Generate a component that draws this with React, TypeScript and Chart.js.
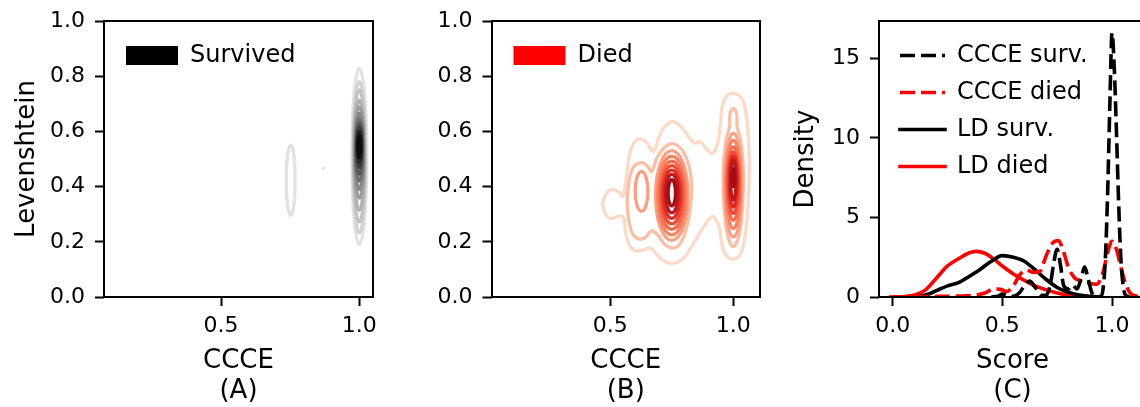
import React, { useEffect, useRef } from 'react';
import { Chart, registerables } from 'chart.js';

Chart.register(...registerables);

const FONT = "'DejaVu Sans', 'Liberation Sans', sans-serif";
Chart.defaults.font.family = FONT;
Chart.defaults.color = '#000';

// ---------------- Panel A : Survived (CCCE vs Levenshtein KDE) ----------------
const aXRange = [0.077, 1.0495];
const aXTicks = [0.5, 1.0];
const abYTicks = [0, 0.2, 0.4, 0.6, 0.8, 1.0];
const survivedCoreX = 1.0;
const survivedCoreTop = [0.828, 0.78, 0.75, 0.713, 0.689, 0.665, 0.645, 0.63, 0.615, 0.6, 0.585];
const survivedCoreBottom = [0.191, 0.232, 0.272, 0.314, 0.358, 0.39, 0.42, 0.445, 0.47, 0.49, 0.505];
const survivedCoreHalfWidth = [0.027, 0.023, 0.021, 0.019, 0.017, 0.015, 0.013, 0.011, 0.009, 0.007, 0.005];
const survivedSideX = [0.752];
const survivedSideTop = [0.55];
const survivedSideBottom = [0.296];
const survivedSideHalfWidth = [0.016];
const survivedSpeckX = [0.87];
const survivedSpeckY = [0.466];

// ---------------- Panel B : Died ----------------
const bXRange = [0.017, 1.1085];
const bXTicks = [0.5, 1.0];
const diedOuterContour = [
  [0.469, 0.339], [0.482, 0.372], [0.506, 0.39], [0.532, 0.382], [0.551, 0.365], [0.563, 0.42],
  [0.577, 0.51], [0.597, 0.56], [0.621, 0.573], [0.645, 0.562], [0.664, 0.537], [0.677, 0.527],
  [0.695, 0.572], [0.717, 0.612], [0.75, 0.635], [0.788, 0.617], [0.818, 0.58], [0.842, 0.558],
  [0.865, 0.562], [0.89, 0.537], [0.912, 0.52], [0.934, 0.55], [0.946, 0.615], [0.955, 0.69],
  [0.972, 0.727], [1.0, 0.738], [1.028, 0.727], [1.047, 0.69], [1.059, 0.6], [1.065, 0.48],
  [1.06, 0.33], [1.047, 0.215], [1.028, 0.155], [1.0, 0.137], [0.972, 0.15], [0.954, 0.19],
  [0.943, 0.25], [0.928, 0.283], [0.912, 0.29], [0.88, 0.255], [0.838, 0.195], [0.797, 0.14],
  [0.75, 0.121], [0.707, 0.138], [0.681, 0.163], [0.66, 0.177], [0.625, 0.168], [0.596, 0.17],
  [0.574, 0.195], [0.562, 0.235], [0.553, 0.29], [0.53, 0.292], [0.5, 0.284], [0.479, 0.303],
];
const diedSecondLeft = [
  [0.569, 0.33], [0.574, 0.405], [0.592, 0.468], [0.628, 0.487], [0.653, 0.472], [0.668, 0.455],
  [0.69, 0.505], [0.716, 0.538], [0.75, 0.556], [0.787, 0.538], [0.814, 0.492], [0.83, 0.42],
  [0.826, 0.33], [0.81, 0.25], [0.786, 0.197], [0.756, 0.177], [0.722, 0.19], [0.695, 0.222],
  [0.668, 0.24], [0.642, 0.215], [0.612, 0.211], [0.585, 0.24],
];
const diedSecondRight = [
  [1.0, 0.683], [1.013, 0.665], [1.016, 0.615], [1.03, 0.565], [1.041, 0.46], [1.037, 0.32],
  [1.022, 0.22], [1.0, 0.183], [0.978, 0.22], [0.963, 0.32], [0.959, 0.46], [0.97, 0.565],
  [0.984, 0.615], [0.987, 0.665],
];
const diedLobeX = [0.627];
const diedLobeTop = [0.455];
const diedLobeBottom = [0.31];
const diedLobeHalfWidth = [0.026];
const diedMiddleX = 0.75;
const diedMiddleTop = [0.53, 0.51, 0.492, 0.476, 0.46, 0.444, 0.425];
const diedMiddleBottom = [0.205, 0.225, 0.245, 0.265, 0.285, 0.305, 0.33];
const diedMiddleHalfWidth = [0.066, 0.058, 0.05, 0.042, 0.034, 0.025, 0.015];
const diedRightX = 1.0;
const diedRightTop = [0.593, 0.568, 0.544, 0.526, 0.51, 0.496, 0.466];
const diedRightBottom = [0.218, 0.248, 0.278, 0.302, 0.326, 0.351, 0.4];
const diedRightHalfWidth = [0.035, 0.03, 0.026, 0.021, 0.016, 0.011, 0.006];

// ---------------- Panel C : densities ----------------
const cXRange = [-0.0625, 1.155];
const cYMax = 17.35;
const cXTicks = [0.0, 0.5, 1.0];
const cYTicks = [0, 5, 10, 15];
const ccceSurvX = [0.45, 0.48, 0.5, 0.52, 0.55, 0.58, 0.6, 0.625, 0.65, 0.68, 0.7, 0.72, 0.735, 0.75, 0.765, 0.78, 0.8, 0.82, 0.84, 0.86, 0.875, 0.89, 0.91, 0.93, 0.95, 0.96, 0.97, 0.98, 0.99, 1.0, 1.01, 1.02, 1.03, 1.04, 1.05, 1.06, 1.08];
const ccceSurvY = [0.0, 0.05, 0.18, 0.08, 0.05, 0.3, 0.7, 1.0, 0.6, 0.1, 0.1, 0.9, 2.2, 3.0, 2.0, 0.7, 0.5, 0.75, 0.5, 1.2, 1.9, 1.2, 0.2, 0.0, 0.05, 0.6, 2.5, 6.5, 12.0, 16.6, 14.5, 10.5, 6.0, 2.5, 0.8, 0.15, 0.0];
const ccceDiedX = [0.0, 0.15, 0.3, 0.38, 0.42, 0.46, 0.49, 0.52, 0.55, 0.58, 0.61, 0.64, 0.67, 0.7, 0.73, 0.755, 0.78, 0.8, 0.83, 0.86, 0.9, 0.93, 0.96, 0.98, 1.0, 1.02, 1.04, 1.06, 1.08, 1.1, 1.12, 1.15];
const ccceDiedY = [0.0, 0.03, 0.06, 0.12, 0.25, 0.5, 0.48, 0.35, 0.7, 1.4, 1.7, 1.55, 1.6, 2.6, 3.4, 3.55, 2.8, 1.9, 1.2, 1.0, 0.85, 0.8, 1.6, 2.8, 3.5, 3.0, 1.9, 0.9, 0.3, 0.1, 0.02, 0.0];
const ldSurvX = [0.1, 0.15, 0.2, 0.25, 0.3, 0.35, 0.4, 0.45, 0.5, 0.55, 0.6, 0.65, 0.7, 0.75, 0.8, 0.85, 0.9, 0.95];
const ldSurvY = [0.0, 0.12, 0.4, 0.7, 0.9, 1.3, 1.75, 2.25, 2.6, 2.5, 2.25, 1.7, 1.1, 0.6, 0.3, 0.12, 0.04, 0.0];
const ldDiedX = [-0.01, 0.05, 0.1, 0.15, 0.2, 0.25, 0.3, 0.35, 0.38, 0.42, 0.46, 0.5, 0.55, 0.6, 0.65, 0.7, 0.75, 0.8, 0.85, 0.9];
const ldDiedY = [0.0, 0.02, 0.12, 0.45, 1.2, 1.95, 2.4, 2.78, 2.87, 2.75, 2.4, 1.95, 1.45, 1.05, 0.7, 0.45, 0.25, 0.12, 0.05, 0.02];

// ---------------- styles ----------------
const GREYS = ['#e2e2e2', '#d2d2d2', '#c2c2c2', '#b0b0b0', '#9c9c9c', '#878787', '#707070', '#575757', '#3d3d3d', '#232323', '#0c0c0c'];
const REDS = ['#fdd9c8', '#fcbea5', '#fca083', '#fb8464', '#f96a4b', '#f04a36', '#dc2a25', '#bf151b', '#a00d14'];
const ELLIPSE_TENSION = 0.5523;
const CONTOUR_WIDTH = 3.3;

const ellipse = (cx: number, top: number, bottom: number, hw: number) => {
  const mid = (top + bottom) / 2;
  return [
    { x: cx, y: top },
    { x: cx + hw, y: mid },
    { x: cx, y: bottom },
    { x: cx - hw, y: mid },
  ];
};
const polygon = (pts: number[][]) => pts.map(([x, y]) => ({ x, y }));
const zip = (xs: number[], ys: number[]) => xs.map((x, i) => ({ x, y: ys[i] }));

const ring = (data: any[], color: string, width: number, tension: number, level: number) => ({
  type: 'line',
  data,
  borderColor: color,
  backgroundColor: color,
  borderWidth: width,
  pointRadius: 0,
  pointHoverRadius: 0,
  tension,
  fill: false,
  closed: true,
  order: 100 - level,
});

// make selected line datasets closed loops
const loopPlugin = {
  id: 'closedLoops',
  afterDatasetUpdate(chart: any, args: any) {
    const ds = chart.data.datasets[args.index];
    if (ds && ds.closed && args.meta.dataset) {
      args.meta.dataset._loop = true;
      args.meta.dataset._fullLoop = true;
    }
  },
};

// legend placed inside the plotting area
const areaLegendPlugin = {
  id: 'areaLegend',
  afterLayout(chart: any, _args: any, opts: any) {
    const lg = chart.legend;
    if (!lg) return;
    const a = chart.chartArea;
    lg.left = a.left + (opts.dx || 0);
    lg.top = a.top + (opts.dy || 0);
    lg.right = a.right;
    lg.bottom = a.bottom;
    lg.width = lg.right - lg.left;
    lg.height = lg.bottom - lg.top;
  },
};

// axes frame (spines)
const framePlugin = {
  id: 'frame',
  afterDatasetsDraw(chart: any) {
    const { ctx, chartArea: a } = chart;
    ctx.save();
    ctx.strokeStyle = '#000';
    ctx.lineWidth = 2;
    ctx.strokeRect(Math.round(a.left), Math.round(a.top), Math.round(a.right) - Math.round(a.left), Math.round(a.bottom) - Math.round(a.top));
    ctx.restore();
  },
};

const tickFont = { family: FONT, size: 22 };
const titleFont = { family: FONT, size: 26, lineHeight: 1.15 };
const yTitleFont = { family: FONT, size: 26, lineHeight: 1.2 };

function scalesFor(o: any) {
  const grid = { display: true, drawOnChartArea: false, drawTicks: true, tickLength: 9, tickWidth: 2, tickColor: '#000' };
  return {
    x: {
      type: 'linear',
      min: o.xMin,
      max: o.xMax,
      afterBuildTicks: (s: any) => { s.ticks = o.xTicks.map((v: number) => ({ value: v })); },
      afterFit: (s: any) => { s.height = 110; s.paddingLeft = 0; s.paddingRight = 0; },
      ticks: { font: tickFont, color: '#000', padding: 7, maxRotation: 0, autoSkip: false, callback: (v: any) => Number(v).toFixed(1) },
      grid,
      border: { display: false },
      title: { display: true, text: o.xTitle, font: titleFont, color: '#000', padding: { top: 0, bottom: 1 } },
    },
    y: {
      type: 'linear',
      min: o.yMin,
      max: o.yMax,
      afterBuildTicks: (s: any) => { s.ticks = o.yTicks.map((v: number) => ({ value: v })); },
      afterFit: (s: any) => { s.width = o.yAxisWidth; s.paddingTop = 0; s.paddingBottom = 0; },
      ticks: { font: tickFont, color: '#000', padding: 10, autoSkip: false, callback: o.yFormat },
      grid,
      border: { display: false },
      title: { display: !!o.yTitle, text: o.yTitle || '', font: yTitleFont, color: '#000', padding: { top: o.yTitlePad || 0, bottom: 0 } },
    },
  };
}

function boxLegend(text: string, color: string) {
  return {
    display: true,
    position: 'chartArea',
    align: 'start',
    labels: {
      boxWidth: 52,
      boxHeight: 19,
      padding: 22,
      color: '#000',
      font: { family: FONT, size: 24 },
      generateLabels: () => [{ text, fillStyle: color, strokeStyle: color, lineWidth: 0, hidden: false, datasetIndex: 0, fontColor: '#000' }],
    },
  };
}

function buildA() {
  const datasets: any[] = [];
  survivedCoreTop.forEach((t, i) => {
    datasets.push(ring(ellipse(survivedCoreX, t, survivedCoreBottom[i], survivedCoreHalfWidth[i]), GREYS[i], CONTOUR_WIDTH, ELLIPSE_TENSION, i));
  });
  survivedSideX.forEach((cx, i) => {
    datasets.push(ring(ellipse(cx, survivedSideTop[i], survivedSideBottom[i], survivedSideHalfWidth[i]), GREYS[0], CONTOUR_WIDTH, ELLIPSE_TENSION, 0));
  });
  datasets.push({
    type: 'line', data: zip(survivedSpeckX, survivedSpeckY), showLine: false,
    pointRadius: 1.8, pointHoverRadius: 1.8, pointBorderWidth: 0,
    pointBackgroundColor: GREYS[0], borderColor: GREYS[0], order: 100,
  });
  return {
    type: 'line',
    data: { datasets },
    options: {
      animation: false, responsive: false, events: [],
      layout: { padding: { left: 0, top: 21, right: 7, bottom: 0 } },
      scales: scalesFor({ xMin: aXRange[0], xMax: aXRange[1], xTicks: aXTicks, yMin: 0, yMax: 1, yTicks: abYTicks, xTitle: ['CCCE', '(A)'], yTitle: 'Levenshtein', yTitlePad: 12, yAxisWidth: 104, yFormat: (v: any) => Number(v).toFixed(1) }),
      plugins: { legend: boxLegend('Survived', '#000000'), tooltip: { enabled: false }, areaLegend: { dx: 0, dy: 0.5 } },
    },
    plugins: [loopPlugin, areaLegendPlugin, framePlugin],
  };
}

function buildB() {
  const datasets: any[] = [];
  datasets.push(ring(polygon(diedOuterContour), REDS[0], CONTOUR_WIDTH, 0.4, 0));
  datasets.push(ring(polygon(diedSecondLeft), REDS[1], CONTOUR_WIDTH, 0.4, 1));
  datasets.push(ring(polygon(diedSecondRight), REDS[1], CONTOUR_WIDTH, 0.4, 1));
  diedLobeX.forEach((cx, i) => {
    datasets.push(ring(ellipse(cx, diedLobeTop[i], diedLobeBottom[i], diedLobeHalfWidth[i]), REDS[2], CONTOUR_WIDTH, ELLIPSE_TENSION, 2));
  });
  diedMiddleTop.forEach((t, i) => {
    datasets.push(ring(ellipse(diedMiddleX, t, diedMiddleBottom[i], diedMiddleHalfWidth[i]), REDS[i + 2], CONTOUR_WIDTH, ELLIPSE_TENSION, i + 2));
  });
  diedRightTop.forEach((t, i) => {
    datasets.push(ring(ellipse(diedRightX, t, diedRightBottom[i], diedRightHalfWidth[i]), REDS[i + 2], CONTOUR_WIDTH, ELLIPSE_TENSION, i + 2));
  });
  return {
    type: 'line',
    data: { datasets },
    options: {
      animation: false, responsive: false, events: [],
      layout: { padding: { left: 0, top: 21, right: 10, bottom: 0 } },
      scales: scalesFor({ xMin: bXRange[0], xMax: bXRange[1], xTicks: bXTicks, yMin: 0, yMax: 1, yTicks: abYTicks, xTitle: ['CCCE', '(B)'], yTitle: '', yAxisWidth: 111.5, yFormat: (v: any) => Number(v).toFixed(1) }),
      plugins: { legend: boxLegend('Died', '#ff0000'), tooltip: { enabled: false }, areaLegend: { dx: 0, dy: 0.5 } },
    },
    plugins: [loopPlugin, areaLegendPlugin, framePlugin],
  };
}

function buildC() {
  const line = (label: string, xs: number[], ys: number[], color: string, dashed: boolean) => ({
    type: 'line',
    label,
    data: zip(xs, ys),
    borderColor: color,
    backgroundColor: color,
    borderWidth: 3.6,
    borderDash: dashed ? [15, 6] : [],
    borderCapStyle: dashed ? 'butt' : 'square',
    pointRadius: 0,
    pointHoverRadius: 0,
    cubicInterpolationMode: 'monotone',
    fill: false,
    clip: 0,
  });
  return {
    type: 'line',
    data: {
      datasets: [
        line('CCCE surv.', ccceSurvX, ccceSurvY, '#000000', true),
        line('CCCE died', ccceDiedX, ccceDiedY, '#ff0000', true),
        line('LD surv.', ldSurvX, ldSurvY, '#000000', false),
        line('LD died', ldDiedX, ldDiedY, '#ff0000', false),
      ],
    },
    options: {
      animation: false, responsive: false, events: [],
      layout: { padding: { left: 0, top: 21, right: 4, bottom: 0 } },
      scales: scalesFor({ xMin: cXRange[0], xMax: cXRange[1], xTicks: cXTicks, yMin: 0, yMax: cYMax, yTicks: cYTicks, xTitle: ['Score', '(C)'], yTitle: 'Density', yTitlePad: 20.4, yAxisWidth: 109, yFormat: (v: any) => String(v) }),
      plugins: {
        legend: {
          display: true,
          position: 'chartArea',
          align: 'start',
          labels: {
            usePointStyle: true,
            pointStyle: 'line',
            pointStyleWidth: 45,
            padding: 13,
            color: '#000',
            font: { family: FONT, size: 24 },
            generateLabels: (chart: any) =>
              chart.data.datasets.map((ds: any, i: number) => ({
                text: ds.label,
                fillStyle: ds.borderColor,
                strokeStyle: ds.borderColor,
                lineWidth: ds.borderWidth,
                lineDash: ds.borderDash,
                lineCap: ds.borderCapStyle,
                pointStyle: 'line',
                hidden: false,
                datasetIndex: i,
                fontColor: '#000',
              })),
          },
        },
        tooltip: { enabled: false },
        areaLegend: { dx: 8, dy: 9.5 },
      },
    },
    plugins: [areaLegendPlugin, framePlugin],
  };
}

function ChartCanvas({ build, left, width }: { build: () => any; left: number; width: number }) {
  const ref = useRef<HTMLCanvasElement | null>(null);
  useEffect(() => {
    if (!ref.current) return;
    const chart = new Chart(ref.current, build());
    return () => chart.destroy();
  }, [build]);
  return (
    <canvas
      ref={ref}
      width={width}
      height={407}
      style={{ position: 'absolute', left, top: 0, width, height: 407, display: 'block' }}
    />
  );
}

export default function App() {
  return (
    <div style={{ position: 'fixed', left: 0, top: 0, width: 1140, height: 407, overflow: 'hidden', background: '#ffffff' }}>
      <ChartCanvas build={buildA} left={0} width={380} />
      <ChartCanvas build={buildB} left={380} width={390} />
      <ChartCanvas build={buildC} left={770} width={380} />
    </div>
  );
}
